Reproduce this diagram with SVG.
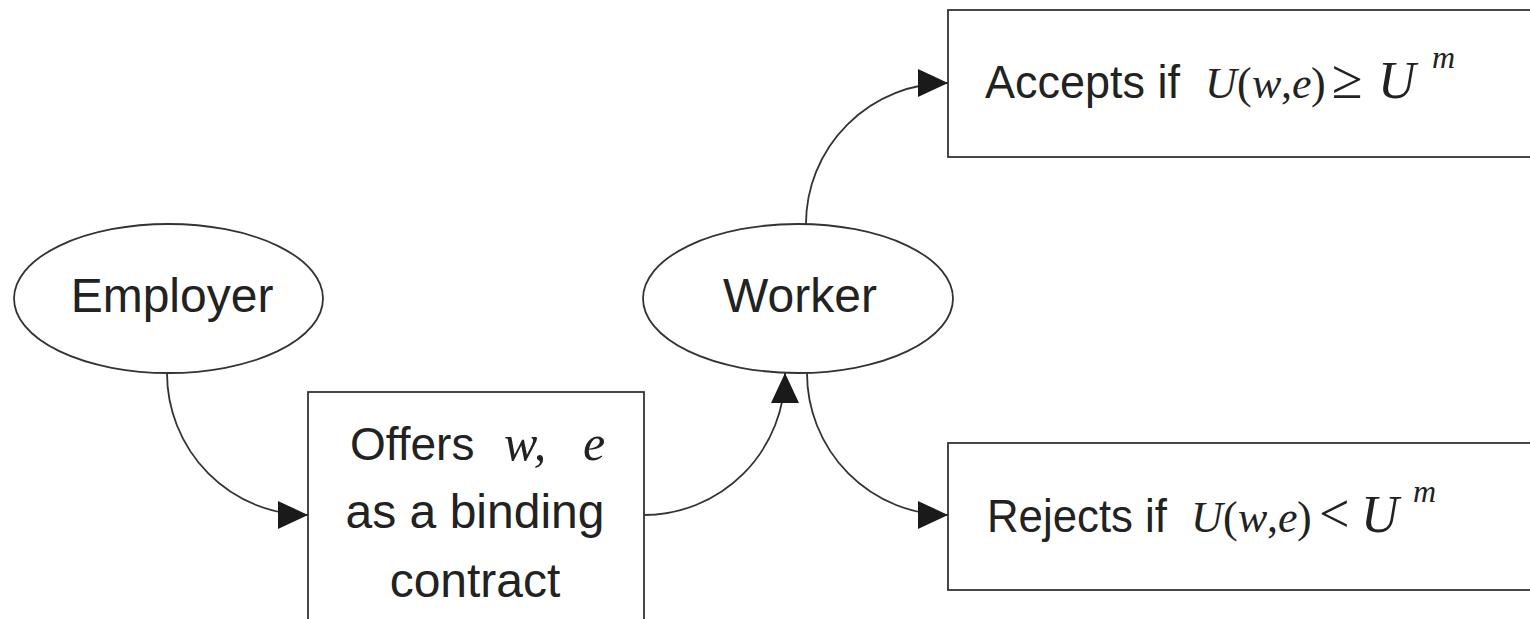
<svg xmlns="http://www.w3.org/2000/svg" width="1530" height="619" viewBox="0 0 1530 619">
<defs>
<style>
.shape{fill:#fff;stroke:#333;stroke-width:1.8}
.conn{fill:none;stroke:#333;stroke-width:1.8}
.sans{font-family:"Liberation Sans",Arial,sans-serif;fill:#222}
.math{font-family:"Liberation Serif","Times New Roman",serif;fill:#222;font-size:44px}
.it{font-style:italic}
</style>
<marker id="arr" markerUnits="userSpaceOnUse" markerWidth="32" markerHeight="30" refX="30" refY="14" orient="auto" viewBox="0 0 32 30">
<path d="M0,0 L30,14 L0,28 Z" fill="#1a1a1a"/>
</marker>
</defs>
<rect width="1530" height="619" fill="#fff"/>
<g id="employer">
<ellipse class="shape" cx="168.5" cy="298.5" rx="154.5" ry="74.5"/>
<text class="sans" x="172" y="312" font-size="48" text-anchor="middle">Employer</text>
</g>
<g id="worker">
<ellipse class="shape" cx="798" cy="298.5" rx="155" ry="74.5"/>
<text class="sans" x="800" y="312" font-size="48" text-anchor="middle">Worker</text>
</g>
<g id="offers">
<rect class="shape" x="308" y="392" width="336" height="250"/>
<text class="sans" x="350" y="460" font-size="46">Offers</text>
<text class="math it" x="504" y="460" style="font-size:50px">w,</text>
<text class="math it" x="583" y="460" style="font-size:50px">e</text>
<text class="sans" x="475" y="528" font-size="48" text-anchor="middle">as a binding</text>
<text class="sans" x="475" y="597" font-size="48" text-anchor="middle">contract</text>
</g>
<g id="accepts">
<rect class="shape" x="948" y="10" width="600" height="147"/>
<text class="sans" x="985" y="98" font-size="46" textLength="195" lengthAdjust="spacingAndGlyphs">Accepts if</text>
<text class="math it" x="1205" y="98">U</text>
<text class="math" x="1237" y="98">(</text>
<text class="math it" x="1252" y="98">w</text>
<text class="math" x="1281" y="98">,</text>
<text class="math it" x="1292" y="98">e</text>
<text class="math" x="1311" y="98">)</text>
<text class="math" x="1332" y="98" style="font-size:56px">≥</text>
<text class="math it" x="1378" y="98" style="font-size:52px">U</text>
<text class="math it" x="1432" y="68" style="font-size:32px">m</text>
</g>
<g id="rejects">
<rect class="shape" x="948" y="443" width="600" height="147"/>
<text class="sans" x="987" y="532" font-size="46" textLength="180" lengthAdjust="spacingAndGlyphs">Rejects if</text>
<text class="math it" x="1191" y="532">U</text>
<text class="math" x="1223" y="532">(</text>
<text class="math it" x="1238" y="532">w</text>
<text class="math" x="1267" y="532">,</text>
<text class="math it" x="1278" y="532">e</text>
<text class="math" x="1297" y="532">)</text>
<text class="math" x="1319" y="532" style="font-size:54px">&lt;</text>
<text class="math it" x="1361" y="532" style="font-size:52px">U</text>
<text class="math it" x="1413" y="502" style="font-size:32px">m</text>
</g>
<g id="connectors">
<path class="conn" d="M167,373 A141,142 0 0 0 308,515" marker-end="url(#arr)"/>
<path class="conn" d="M644,515 A141,142 0 0 0 785,373" marker-end="url(#arr)"/>
<path class="conn" d="M807,373 A141,142 0 0 0 948,515" marker-end="url(#arr)"/>
<path class="conn" d="M806,224 A142,141 0 0 1 948,83" marker-end="url(#arr)"/>
</g>
</svg>
